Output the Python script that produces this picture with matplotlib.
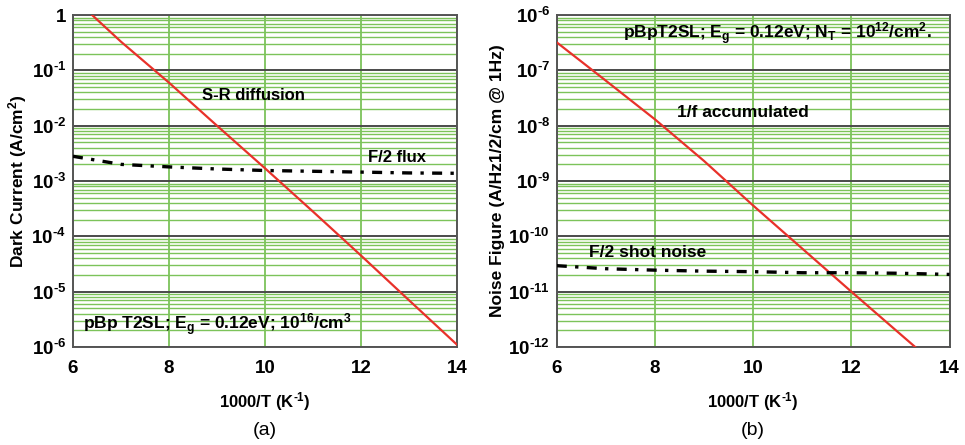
import math

import matplotlib

matplotlib.use("Agg")
import matplotlib.pyplot as plt
from matplotlib.ticker import LogLocator, FixedLocator, FuncFormatter

plt.rcParams["font.family"] = ["Liberation Sans", "DejaVu Sans"]
plt.rcParams["mathtext.fontset"] = "custom"
plt.rcParams["mathtext.rm"] = "Liberation Sans:bold"
plt.rcParams["mathtext.bf"] = "Liberation Sans:bold"
plt.rcParams["mathtext.it"] = "Liberation Sans:bold"

# ── (a) dark current ──
t_sr = [6.4, 7, 8, 9, 10, 11, 12, 13, 14]
j_sr = [1.0, 0.33, 0.06, 0.010, 1.7e-3, 2.8e-4, 4.5e-5, 7e-6, 1.1e-6]
t_flux = [6, 7, 8, 9, 10, 11, 12, 13, 14]
j_flux = [2.8e-3, 2.0e-3, 1.8e-3, 1.65e-3, 1.55e-3, 1.5e-3, 1.45e-3, 1.4e-3, 1.38e-3]

# ── (b) noise ──
t_1f = [6, 7, 8, 9, 10, 11, 12, 13, 13.3]
n_1f = [3.2e-7, 6.5e-8, 1.3e-8, 2.3e-9, 3.6e-10, 6e-11, 1e-11, 1.7e-12, 1e-12]
t_shot = [6, 7, 8, 9, 10, 11, 12, 13, 14]
n_shot = [2.95e-11, 2.6e-11, 2.45e-11, 2.35e-11, 2.3e-11, 2.2e-11, 2.2e-11, 2.15e-11, 2.05e-11]

x_ticks = [6, 8, 10, 12, 14]

GREEN = "#7CC35A"
MAJOR = "#4A4A4A"
RED = "#E8312A"


def _sup(s):
    return r"$^{\mathregular{%s}}$" % s


def _fmt(v, p):
    e = int(round(math.log10(v)))
    if e == 0:
        return "1"
    return r"10$^{\mathregular{\text{-}%d}}$" % (-e)


def _style(ax, ylo, yhi):
    ax.set_xlim(6, 14)
    ax.set_yscale("log")
    ax.set_ylim(ylo, yhi)
    ax.xaxis.set_major_locator(FixedLocator(x_ticks))
    ax.yaxis.set_major_locator(LogLocator(base=10, numticks=20))
    ax.yaxis.set_minor_locator(LogLocator(base=10, subs=range(2, 10), numticks=20))
    ax.yaxis.set_minor_formatter(FuncFormatter(lambda v, p: ""))
    ax.yaxis.set_major_formatter(FuncFormatter(_fmt))
    ax.grid(True, which="minor", axis="y", color=GREEN, lw=1.0, zorder=0)
    ax.grid(True, which="major", axis="y", color=MAJOR, lw=1.4, zorder=0)
    ax.grid(True, which="major", axis="x", color=GREEN, lw=1.3, zorder=0)
    ax.tick_params(which="both", length=0, labelsize=13.5)
    ax.tick_params(axis="x", pad=9)
    ax.tick_params(axis="y", pad=5)
    for lb in ax.get_xticklabels() + ax.get_yticklabels():
        lb.set_fontweight("bold")
    for s in ax.spines.values():
        s.set_color("#555555")
        s.set_linewidth(1.4)
    ax.set_xlabel("1000/T (K" + _sup(r"\text{-}1") + ")", fontsize=12,
                  fontweight="bold", labelpad=10)


fig = plt.figure(figsize=(9.65, 4.45), dpi=100)
ax1 = fig.add_axes([0.0756, 0.2202, 0.398, 0.746])
ax2 = fig.add_axes([0.577, 0.2202, 0.407, 0.746])

# (a)
_style(ax1, 1e-6, 1)
ax1.plot(t_sr, j_sr, color=RED, lw=1.6, zorder=3)
ax1.plot(t_flux, j_flux, color="black", lw=2.4, zorder=3,
         dashes=(3, 2.5, 1, 2.5))
ax1.set_ylabel("Dark Current (A/cm" + _sup("2") + ")", fontsize=12.5,
               fontweight="bold", labelpad=2)
ax1.text(9.75, 0.035, "S-R diffusion", ha="center", va="center",
         fontsize=12, fontweight="bold")
ax1.text(12.75, 2.7e-3, "F/2 flux", ha="center", va="center",
         fontsize=12, fontweight="bold")
ax1.text(9.0, 2.5e-6,
         "pBp T2SL; E$_{\\mathregular{g}}$ = 0.12eV; 10" + _sup("16")
         + "/cm" + _sup("3"),
         ha="center", va="center", fontsize=12.5, fontweight="bold")
fig.text(0.2745, 0.033, "(a)", ha="center", va="center", fontsize=14)

# (b)
_style(ax2, 1e-12, 1e-6)
ax2.plot(t_1f, n_1f, color=RED, lw=1.6, zorder=3)
ax2.plot(t_shot, n_shot, color="black", lw=2.4, zorder=3,
         dashes=(3, 2.5, 1, 2.5))
ax2.set_ylabel("Noise Figure (A/Hz1/2/cm @ 1Hz)", fontsize=12.5,
               fontweight="bold", labelpad=2)
ax2.text(10.5, 10 ** -6.33,
         "pBpT2SL; E$_{\\mathregular{g}}$ = 0.12eV; N$_{\\mathregular{T}}$ = 10"
         + _sup("12") + "/cm" + _sup("2") + ".",
         ha="center", va="center", fontsize=12.5, fontweight="bold")
ax2.text(9.8, 10 ** -7.77, "1/f accumulated", ha="center", va="center",
         fontsize=12.5, fontweight="bold")
ax2.text(7.86, 10 ** -10.3, "F/2 shot noise", ha="center", va="center",
         fontsize=12.5, fontweight="bold")
fig.text(0.7805, 0.033, "(b)", ha="center", va="center", fontsize=14)

fig.savefig("out.png", dpi=100, facecolor="white")
